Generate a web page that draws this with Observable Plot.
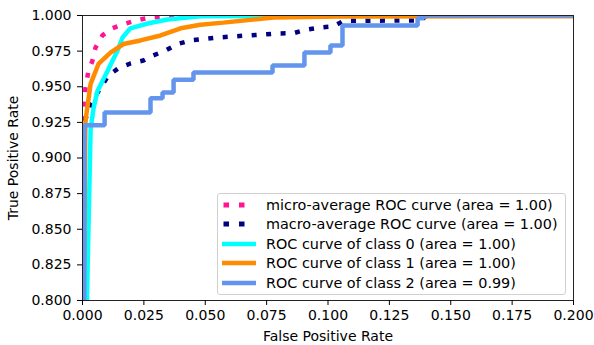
<!DOCTYPE html>
<html>
<head>
<meta charset="utf-8">
<script src="https://cdn.jsdelivr.net/npm/d3@7"></script>
<script src="https://cdn.jsdelivr.net/npm/@observablehq/plot@0.6"></script>
<style>
  html, body { margin: 0; padding: 0; background: white; }
  #wrap { position: relative; width: 594px; height: 345px; font-family: "DejaVu Sans", sans-serif; }
  #legend { position: absolute; left: 217px; top: 193px; width: 349px; height: 102px;
    border: 1px solid #d0d0d0; border-radius: 3px; background: rgba(255,255,255,0.8);
    box-sizing: border-box; padding-top: 1px; }
  .row { display: flex; align-items: center; height: 19.5px; font-size: 14.4px; color: #000; white-space: nowrap; }
  .row svg { margin-left: 4px; margin-right: 10px; flex: none; }
</style>
</head>
<body>
<div id="wrap"></div>
<script>
// ---- data ----
const xTicks = [0, 0.025, 0.05, 0.075, 0.1, 0.125, 0.15, 0.175, 0.2];
const yTicks = [0.8, 0.825, 0.85, 0.875, 0.9, 0.925, 0.95, 0.975, 1.0];

const seriesNames = [
  "micro-average ROC curve (area = 1.00)",
  "macro-average ROC curve (area = 1.00)",
  "ROC curve of class 0 (area = 1.00)",
  "ROC curve of class 1 (area = 1.00)",
  "ROC curve of class 2 (area = 0.99)"
];
const seriesColors = ["deeppink", "navy", "aqua", "darkorange", "cornflowerblue"];
const seriesDashed = [true, true, false, false, false];

const fprMicro = [0, 0.0003, 0.0012, 0.0024, 0.004, 0.0053, 0.0081, 0.0122, 0.0163, 0.0216, 0.0277, 0.034, 0.04, 0.2];
const tprMicro = [0, 0.925, 0.949, 0.961, 0.968, 0.9775, 0.986, 0.991, 0.9937, 0.9965, 0.9986, 0.9993, 1.0, 1.0];

const fprMacro = [0, 0.0008, 0.0033, 0.0073, 0.0106, 0.0147, 0.0195, 0.0248, 0.0289, 0.0338, 0.0387, 0.044, 0.0554, 0.0676, 0.0798, 0.0860, 0.0908, 0.097, 0.1022, 0.1063, 0.1307, 0.138, 0.14, 0.2];
const tprMacro = [0, 0.925, 0.938, 0.949, 0.958, 0.963, 0.9663, 0.9684, 0.972, 0.9754, 0.980, 0.9825, 0.9846, 0.986, 0.9874, 0.9876, 0.990, 0.9916, 0.9923, 0.9962, 0.9965, 0.9965, 1.0, 1.0];

const fprClass0 = [0, 0.0018, 0.0033, 0.0045, 0.0061, 0.0102, 0.0143, 0.0163, 0.0195, 0.0265, 0.0346, 0.0428, 0.048, 0.2];
const tprClass0 = [0, 0.8, 0.92, 0.935, 0.947, 0.961, 0.9754, 0.9846, 0.991, 0.9944, 0.9972, 0.9986, 0.9995, 1.0];

const fprClass1 = [0, 0.0005, 0.0012, 0.0033, 0.0065, 0.0114, 0.0167, 0.0236, 0.0318, 0.040, 0.048, 0.0574, 0.0778, 0.105, 0.2];
const tprClass1 = [0, 0.8, 0.926, 0.952, 0.966, 0.974, 0.980, 0.9825, 0.986, 0.991, 0.9935, 0.995, 0.9986, 0.9993, 0.9995];

const fprClass2 = [0, 0.0008, 0.009, 0.009, 0.0277, 0.0277, 0.0326, 0.0326, 0.0371, 0.0371, 0.0452, 0.0452, 0.0774, 0.0774, 0.0904, 0.0904, 0.101, 0.101, 0.1059, 0.1059, 0.1365, 0.1365, 0.1389, 0.1389, 0.2];
const tprClass2 = [0, 0.923, 0.923, 0.932, 0.932, 0.942, 0.942, 0.946, 0.946, 0.955, 0.955, 0.960, 0.960, 0.965, 0.965, 0.974, 0.974, 0.979, 0.979, 0.993, 0.993, 0.998, 0.998, 1.0, 1.0];

const fprs = [fprMicro, fprMacro, fprClass0, fprClass1, fprClass2];
const tprs = [tprMicro, tprMacro, tprClass0, tprClass1, tprClass2];

// ---- build chart ----
const lineMarks = fprs.map((fpr, i) => {
  const rows = fpr.map((x, j) => ({x, y: tprs[i][j]}));
  return Plot.line(rows, {
    x: "x", y: "y", stroke: seriesColors[i], strokeWidth: 4.5,
    strokeDasharray: seriesDashed[i] ? "5,9.5" : null,
    strokeLinecap: "butt", strokeLinejoin: "miter", clip: true
  });
});

const fmt = d3.format(".3f");
const chart = Plot.plot({
  width: 594, height: 345,
  marginLeft: 82, marginRight: 21, marginTop: 15, marginBottom: 45,
  style: { fontFamily: "DejaVu Sans", fontSize: "14px", color: "black", background: "white" },
  x: { domain: [0, 0.2] },
  y: { domain: [0.8, 1.0] },
  marks: [
    ...lineMarks,
    Plot.frame({ stroke: "#222", strokeWidth: 1 }),
    Plot.axisX({ ticks: xTicks, tickFormat: fmt, tickSize: 5, tickPadding: 5, fontSize: 14,
      label: "False Positive Rate", labelAnchor: "center", labelArrow: "none", labelOffset: 40 }),
    Plot.axisY({ ticks: yTicks, tickFormat: fmt, tickSize: 5, tickPadding: 6, fontSize: 14,
      label: "True Positive Rate", labelAnchor: "center", labelArrow: "none", labelOffset: 74 })
  ]
});
document.getElementById("wrap").appendChild(chart);

// ---- legend (inside axes, lower right) ----
const legend = document.createElement("div");
legend.id = "legend";
seriesNames.forEach((name, i) => {
  const row = document.createElement("div");
  row.className = "row";
  const line = seriesDashed[i]
    ? `<line x1="1.5" y1="4" x2="24" y2="4" stroke="${seriesColors[i]}" stroke-width="5" stroke-dasharray="5.5,10"/>`
    : `<line x1="0" y1="4" x2="34" y2="4" stroke="${seriesColors[i]}" stroke-width="4.5"/>`;
  row.innerHTML = `<svg width="34" height="8">${line}</svg><span>${name}</span>`;
  legend.appendChild(row);
});
document.getElementById("wrap").appendChild(legend);
</script>
</body>
</html>
